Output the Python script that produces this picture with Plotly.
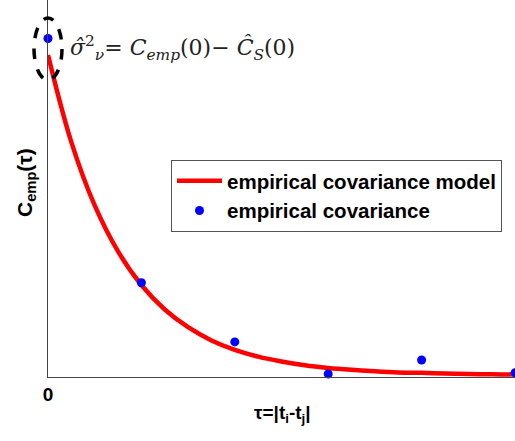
import plotly.graph_objects as go

# empirical covariance (points)
tau_pts = [0, 1, 2, 3, 4, 5]
cov_pts = [0.898, 0.250, 0.093, 0.008, 0.045, 0.011]

# empirical covariance model (curve)
tau_model = [0, 0.25, 0.5, 0.75, 1, 1.25, 1.5, 1.75, 2, 2.25, 2.5,
             2.75, 3, 3.25, 3.5, 3.75, 4, 4.25, 4.5, 4.75, 5]
cov_model = [0.854, 0.623, 0.455, 0.333, 0.244, 0.179, 0.132, 0.097, 0.072,
             0.054, 0.041, 0.031, 0.024, 0.019, 0.015, 0.012, 0.011, 0.009,
             0.008, 0.007, 0.007]

x_tick_vals = [0]
x_tick_text = ["<b>0</b>"]

W, H = 515, 441
L, R, T, B = 48, 0, 0, 64
PW, PH = W - L - R, H - B - T

fig = go.Figure()
fig.add_trace(go.Scatter(
    x=tau_model, y=cov_model, mode="lines", line_shape="spline",
    line=dict(color="#ff0000", width=4.5),
    name="<b>empirical covariance model</b>", cliponaxis=False))
fig.add_trace(go.Scatter(
    x=tau_pts, y=cov_pts, mode="markers",
    marker=dict(color="#0000ff", size=9),
    name="<b>empirical covariance</b>", cliponaxis=False))

# dashed ellipse around first point (paper-referenced so it is not clipped)
fig.add_shape(type="circle", xref="paper", yref="paper",
              xsizemode="pixel", ysizemode="pixel",
              xanchor=0, yanchor=(PH - 49) / PH,
              x0=-14, x1=14, y0=-31, y1=31,
              line=dict(color="black", width=3.5, dash="dash"))

fig.add_annotation(
    xref="paper", yref="paper", x=(68 - L) / PW, y=(PH - 48) / PH,
    xanchor="left", yanchor="middle", showarrow=False,
    text="<i>σ̂</i><sup>2</sup><sub><i>ν</i></sub>= <i>C</i><sub><i>emp</i></sub>(0)− <i>Ĉ</i><sub><i>S</i></sub>(0)",
    font=dict(family="DejaVu Serif, Liberation Serif, serif", size=22, color="#222"))

# axis titles
fig.add_annotation(
    xref="paper", yref="paper", x=-22 / PW, y=(PH - 183) / PH,
    xanchor="center", yanchor="middle", showarrow=False, textangle=-90,
    text="<b>C<sub>emp</sub>(τ)</b>",
    font=dict(family="Liberation Sans, Arial, sans-serif", size=21, color="black"))
fig.add_annotation(
    xref="paper", yref="paper", x=(282 - L) / PW, y=-(414 - PH) / PH,
    xanchor="center", yanchor="middle", showarrow=False,
    text="<b>τ=|t<sub>i</sub>-t<sub>j</sub>|</b>",
    font=dict(family="Liberation Sans, Arial, sans-serif", size=19, color="black"))

fig.update_xaxes(range=[0, 5], showgrid=False, zeroline=False,
                 showline=True, linecolor="#444", linewidth=1,
                 tickvals=x_tick_vals, ticktext=x_tick_text, ticks="",
                 tickfont=dict(family="Liberation Sans, Arial, sans-serif", size=19, color="black"))
fig.update_yaxes(range=[0, 1], showgrid=False, zeroline=False,
                 showline=True, linecolor="#444", linewidth=1,
                 showticklabels=False, ticks="")

fig.update_layout(
    width=W, height=H, margin=dict(l=L, r=R, t=T, b=B),
    paper_bgcolor="white", plot_bgcolor="white",
    showlegend=True,
    legend=dict(x=(171 - L) / PW, y=(PH - 160) / PH,
                xanchor="left", yanchor="top", itemwidth=45,
                bordercolor="#555", borderwidth=1, bgcolor="white",
                font=dict(family="Liberation Sans, Arial, sans-serif", size=20.5, color="black"),
                tracegroupgap=0),
)

fig.write_html("out.html")
